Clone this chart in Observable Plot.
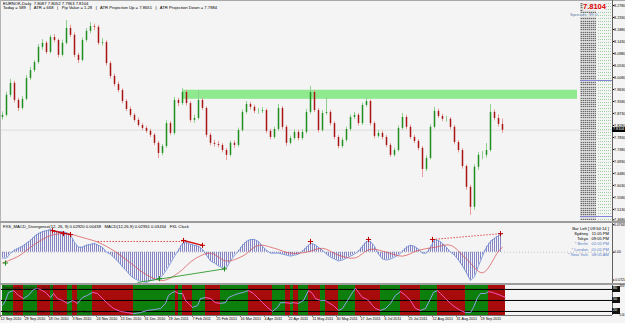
<!DOCTYPE html>
<html><head><meta charset="utf-8">
<script src="https://cdn.jsdelivr.net/npm/d3@7"></script>
<script src="https://cdn.jsdelivr.net/npm/@observablehq/plot@0.6"></script>
<style>
body{margin:0;background:#f4f4f4;}
#wrap{position:relative;width:625px;height:323px;overflow:hidden;background:#f4f4f4;font-family:"Liberation Sans",Arial,sans-serif;}
#wrap svg{position:absolute;left:0;}
.t{position:absolute;white-space:pre;line-height:1;}
.b{position:absolute;}
</style></head><body><div id="wrap"></div>
<script>
// ---------- DATA (EURNOK daily) ----------
const open = [7.858,7.866,7.941,7.986,7.922,7.892,7.926,8.004,8.034,8.064,
8.121,8.136,8.102,8.158,8.147,8.091,8.136,8.192,8.166,8.091,
8.072,8.147,8.181,8.199,8.196,8.136,8.139,8.060,8.012,7.982,
7.959,7.918,7.888,7.866,7.847,7.828,7.817,7.806,7.791,7.761,
7.723,7.749,7.835,7.798,7.922,7.910,7.952,7.910,7.847,7.854,
7.922,7.892,7.791,7.761,7.757,7.753,7.734,7.716,7.761,7.753,
7.809,7.877,7.907,7.896,7.881,7.881,7.884,7.806,7.783,7.813,
7.892,7.821,7.761,7.779,7.802,7.779,7.802,7.877,7.952,7.884,
7.809,7.873,7.877,7.835,7.783,7.749,7.772,7.813,7.858,7.866,
7.835,7.903,7.918,7.835,7.787,7.798,7.783,7.753,7.716,7.734,
7.817,7.858,7.821,7.783,7.768,7.742,7.663,7.704,7.821,7.881,
7.862,7.851,7.851,7.821,7.764,7.734,7.674,7.596,7.521,7.671,
7.716,7.716,7.734,7.877,7.854,7.832];
const close = [7.866,7.941,7.986,7.922,7.892,7.926,8.004,8.034,8.064,8.121,
8.136,8.102,8.158,8.147,8.091,8.136,8.192,8.166,8.091,8.072,
8.147,8.181,8.199,8.196,8.136,8.139,8.060,8.012,7.982,7.959,
7.918,7.888,7.866,7.847,7.828,7.817,7.806,7.791,7.761,7.723,
7.749,7.835,7.798,7.922,7.910,7.952,7.910,7.847,7.854,7.922,
7.892,7.791,7.761,7.757,7.753,7.734,7.716,7.761,7.753,7.809,
7.877,7.907,7.896,7.881,7.881,7.884,7.806,7.783,7.813,7.892,
7.821,7.761,7.779,7.802,7.779,7.802,7.877,7.952,7.884,7.809,
7.873,7.877,7.835,7.783,7.749,7.772,7.813,7.858,7.866,7.835,
7.903,7.918,7.835,7.787,7.798,7.783,7.753,7.716,7.734,7.817,
7.858,7.821,7.783,7.768,7.742,7.663,7.704,7.821,7.881,7.862,
7.851,7.851,7.821,7.764,7.734,7.674,7.596,7.521,7.671,7.716,
7.716,7.734,7.877,7.854,7.832,7.810];
const high = [7.879,7.953,8.001,7.994,7.930,7.937,8.015,8.046,8.071,8.132,
8.150,8.143,8.166,8.169,8.152,8.148,8.222,8.204,8.175,8.099,
8.156,8.192,8.214,8.208,8.203,8.154,8.146,8.068,8.021,7.991,
7.966,7.925,7.897,7.873,7.856,7.836,7.825,7.814,7.798,7.768,
7.757,7.846,7.843,7.933,7.930,7.967,7.960,7.917,7.866,7.959,
7.930,7.898,7.799,7.772,7.768,7.760,7.741,7.769,7.770,7.818,
7.886,7.918,7.915,7.904,7.892,7.895,7.890,7.814,7.822,7.907,
7.899,7.828,7.788,7.811,7.810,7.812,7.888,7.974,7.960,7.892,
7.884,7.933,7.885,7.842,7.790,7.781,7.822,7.867,7.877,7.873,
7.912,7.933,7.924,7.842,7.809,7.806,7.790,7.760,7.743,7.826,
7.873,7.866,7.829,7.791,7.775,7.749,7.714,7.830,7.896,7.889,
7.870,7.862,7.858,7.828,7.771,7.741,7.680,7.604,7.680,7.727,
7.730,7.760,7.907,7.886,7.868,7.852];
const low = [7.848,7.860,7.933,7.912,7.880,7.885,7.920,7.996,8.026,8.058,
8.110,8.094,8.096,8.138,8.081,8.085,8.130,8.158,8.082,8.060,
8.066,8.140,8.172,8.184,8.128,8.126,8.051,8.002,7.973,7.951,
7.909,7.880,7.858,7.840,7.821,7.809,7.798,7.783,7.752,7.704,
7.714,7.742,7.790,7.791,7.898,7.903,7.901,7.838,7.836,7.848,
7.884,7.782,7.752,7.747,7.744,7.725,7.697,7.710,7.742,7.746,
7.802,7.870,7.886,7.872,7.870,7.873,7.797,7.774,7.776,7.806,
7.812,7.750,7.755,7.772,7.770,7.772,7.795,7.870,7.876,7.800,
7.802,7.866,7.826,7.774,7.740,7.742,7.765,7.806,7.850,7.826,
7.828,7.896,7.826,7.778,7.780,7.774,7.745,7.708,7.709,7.728,
7.810,7.813,7.775,7.760,7.733,7.633,7.655,7.698,7.815,7.854,
7.842,7.840,7.812,7.755,7.725,7.664,7.585,7.491,7.510,7.660,
7.700,7.706,7.728,7.845,7.822,7.798];
const lastPrice = 7.8104;
const resistance = [{from: 45.25, to: 143.75, low: 7.926, high: 7.960}];
const priceTicks = [8.278,8.233,8.188,8.143,8.098,8.053,8.008,7.963,7.918,7.873,7.828,7.783,7.738,7.693,7.648,7.603,7.558,7.513];
const priceTickLast = [7.468];

const macd = [-0.0153,-0.0153,-0.0026,0.0051,0.0102,0.0153,0.0230,0.0306,0.0408,0.0485,
0.0536,0.0561,0.0587,0.0561,0.0536,0.0536,0.0510,0.0459,0.0255,0.0128,
0.0128,0.0179,0.0204,0.0230,0.0179,0.0128,0.0000,-0.0051,-0.0153,-0.0255,
-0.0383,-0.0485,-0.0612,-0.0689,-0.0740,-0.0765,-0.0791,-0.0740,-0.0714,-0.0689,
-0.0612,-0.0459,-0.0281,-0.0102,0.0051,0.0230,0.0255,0.0204,0.0179,0.0153,
0.0077,-0.0077,-0.0230,-0.0281,-0.0357,-0.0408,-0.0408,-0.0230,-0.0077,0.0026,
0.0179,0.0281,0.0332,0.0332,0.0281,0.0153,0.0051,-0.0026,-0.0026,-0.0026,
-0.0051,-0.0077,-0.0102,-0.0077,-0.0051,0.0026,0.0128,0.0230,0.0204,0.0128,
0.0051,-0.0051,-0.0128,-0.0179,-0.0230,-0.0204,-0.0153,-0.0102,-0.0051,0.0026,
0.0153,0.0281,0.0281,0.0153,-0.0051,-0.0179,-0.0204,-0.0179,-0.0128,-0.0077,
0.0026,0.0128,0.0179,0.0153,0.0077,-0.0026,-0.0026,0.0128,0.0332,0.0306,
0.0230,0.0128,0.0000,-0.0077,-0.0204,-0.0357,-0.0536,-0.0740,-0.0638,-0.0357,
-0.0102,0.0128,0.0281,0.0357,0.0434,0.0485];
const signalBar = [0,4,8,12,16,20,24,28,32,36,40,44,48,52,56,60,64,68,72,76,80,84,88,92,96,100,104,108,112,116,120,124,125];
const signal = [-0.0281,-0.0102,0.0204,0.0434,0.0485,0.0383,0.0255,0.0026,-0.0281,-0.0587,-0.0740,-0.0536,-0.0179,-0.0026,-0.0230,-0.0102,0.0179,0.0102,-0.0026,0.0000,0.0102,-0.0077,-0.0153,0.0077,0.0000,-0.0102,0.0051,0.0128,0.0179,-0.0179,-0.0536,0.0026,0.0128];
const macdTopTick = [0.0764];
const macdTopLabel = "0.07648";
const macdTicks = [0, -0.0724];
const macdTickLabels = ["0.00", "-0.0724"];
const divRedSolid = [{x1:12.5,y1:0.0561,x2:17,y2:0.0459},{x1:45.25,y1:0.0306,x2:50,y2:0.0179}];
const divRedDotted = [{x1:23.75,y1:0.028,x2:45,y2:0.028},{x1:107.5,y1:0.0332,x2:124.5,y2:0.0485}];
const divRedMarks = [{x:12.5,y:0.0561},{x:15.25,y:0.0485},{x:17,y:0.0459},{x:45.25,y:0.0306},{x:50,y:0.0179},{x:77,y:0.028},{x:91.5,y:0.0332},{x:107.5,y:0.0332},{x:124.5,y:0.0485}];
const divGreen = [{x1:33.75,y1:-0.0791,x2:55.5,y2:-0.0434}];
const divGreenMarks = [{x:0.75,y:-0.0281},{x:39.25,y:-0.0689},{x:55.5,y:-0.0434}];

const oscBar = [0,0.75,1.5,2.75,4,5.25,6.5,7.75,8.75,10,10.75,12,12.75,13.75,15,16.25,17.5,18.75,20,21.25,22.5,23.75,25,26.25,27.75,29.5,31.25,32.75,34.5,36.25,37.75,39.5,40.75,41.5,42.5,43.25,44,45,45.75,46.5,47.5,48.75,49.5,50.75,52,53.25,54.5,55.75,56.5,57.75,59,60.25,61.5,62.75,63.75,65,66.25,67.5,68.75,69.5,70.75,72,72.75,74,75.25,76.5,77.5,78.25,79.5,80.75,81.5,82.75,84,85,86.25,87.5,88.25,89,90,90.75,91.5,92.5,93.25,94.5,95.75,97,98.25,99.5,100.75,102,103.25,104.5,105.75,107,107.75,108.75,109.5,110.75,112,113.25,114.5,115.75,117,117.75,118.75,119.5,120.75,121.5,122.5,123.25,124.5,125.75];
const osc = [36,50,72,77,64,55,64,80,83,77,72,58,69,55,50,42,50,42,58,64,72,69,55,42,28,20,17,14,17,23,25,28,42,64,72,74,69,69,50,42,31,36,55,58,55,44,42,44,58,64,69,72,77,69,58,44,31,20,31,44,44,42,44,42,50,77,69,55,50,50,44,36,23,28,50,72,83,72,58,55,50,36,28,23,28,42,64,74,64,50,28,23,28,55,72,77,69,55,42,31,23,17,17,31,58,69,69,74,72,69,64,58];
const oscLevels = [80, 50, 20];
const dateLabels = ["12 Sep 2010","29 Sep 2010","18 Oct 2010","3 Nov 2010","24 Nov 2010","13 Dec 2010","31 Dec 2010","19 Jan 2011","7 Feb 2011","25 Feb 2011","16 Mar 2011","4 Apr 2011","22 Apr 2011","11 May 2011","30 May 2011","17 Jun 2011","6 Jul 2011","25 Jul 2011","12 Aug 2011","31 Aug 2011","19 Sep 2011"];

// ---------- helpers ----------
const wrap = document.getElementById("wrap");
function txt(s, left, top, size, color, extra) {
  const d = document.createElement("div"); d.className = "t"; d.textContent = s;
  if (left != null) d.style.left = left + "px";
  d.style.top = top + "px"; d.style.fontSize = size + "px"; d.style.color = color || "#000";
  if (extra) Object.assign(d.style, extra);
  wrap.appendChild(d); return d;
}
function rtxt(s, right, top, size, color, extra) {
  return txt(s, null, top, size, color, Object.assign({right: (625 - right) + "px", textAlign: "right"}, extra || {}));
}
function box(left, top, w, h, bg, extra) {
  const d = document.createElement("div"); d.className = "b";
  Object.assign(d.style, {left: left + "px", top: top + "px", width: w + "px", height: h + "px", background: bg}, extra || {});
  wrap.appendChild(d); return d;
}
const xScale = {domain: [-0.5, 152.5], axis: null};
const common = {width: 625, marginLeft: 0, marginRight: 13, marginTop: 0, style: {background: "transparent", fontFamily: "Liberation Sans, Arial, sans-serif"}};
const axisFont = 3.7;

// ---------- MAIN PANE ----------
const bars = close.map((c, i) => ({i, o: open[i], h: high[i], l: low[i], c, up: c >= open[i]}));
const main = Plot.plot({
  ...common, height: 222, marginBottom: 0,
  x: xScale,
  y: {domain: [7.464, 8.29675]},
  marks: [
    Plot.rect(resistance, {x1: "from", x2: "to", y1: "low", y2: "high", fill: "#8fea8f"}),
    Plot.ruleY([lastPrice], {stroke: "#d6d6d6", strokeWidth: 0.8}),
    Plot.ruleX(bars, {x: "i", y1: "l", y2: "h", stroke: d => d.up ? "#8fcf8f" : "#e69a9a", strokeWidth: 1}),
    Plot.ruleX(bars, {x: "i", y1: "o", y2: "c", stroke: d => d.up ? "#1f8f1f" : "#a81414", strokeWidth: 1.5}),
    Plot.axisY({anchor: "right", ticks: priceTicks, tickFormat: d => d.toFixed(4), tickSize: 1.2, tickPadding: 0.4, fontSize: axisFont, label: null}),
    Plot.axisY({anchor: "right", ticks: priceTickLast, tickFormat: d => d.toFixed(4), tickSize: 1.2, tickPadding: 0.4, fontSize: axisFont, dy: -1.6, label: null})
  ]
});
main.style.top = "0px";
wrap.appendChild(main);

// ---------- MACD PANE ----------
const macdData = macd.map((v, i) => ({i, v}));
const sigData = signalBar.map((b, k) => ({i: b, v: signal[k]}));
const macdPlot = Plot.plot({
  ...common, height: 62, marginBottom: 0,
  x: xScale,
  y: {domain: [-0.0842, 0.0775]},
  marks: [
    Plot.ruleY([0], {stroke: "#9a9a9a", strokeDasharray: "1,2", strokeWidth: 0.6}),
    Plot.areaY(macdData, {x: "i", y: "v", fill: "url(#histStripes)"}),
    Plot.lineY(macdData, {x: "i", y: "v", stroke: "#6c8cd8", strokeWidth: 0.8}),
    Plot.line(sigData, {x: "i", y: "v", stroke: "#d84848", strokeWidth: 0.7, curve: "catmull-rom"}),
    Plot.link(divRedDotted, {x1: "x1", y1: "y1", x2: "x2", y2: "y2", stroke: "#d82020", strokeWidth: 0.8, strokeDasharray: "1.5,1.5"}),
    Plot.link(divRedSolid, {x1: "x1", y1: "y1", x2: "x2", y2: "y2", stroke: "#d01010", strokeWidth: 1.4}),
    Plot.link(divGreen, {x1: "x1", y1: "y1", x2: "x2", y2: "y2", stroke: "#2e9a2e", strokeWidth: 0.9}),
    Plot.dot(divRedMarks, {x: "x", y: "y", symbol: "plus", r: 1.8, stroke: "#c00000", strokeWidth: 1}),
    Plot.dot(divGreenMarks, {x: "x", y: "y", symbol: "plus", r: 1.8, stroke: "#1a8a1a", strokeWidth: 1}),
    Plot.axisY({anchor: "right", ticks: macdTicks, tickFormat: d => macdTickLabels[macdTicks.indexOf(d)], tickSize: 1.2, tickPadding: 0.4, fontSize: 3.5, label: null}),
    Plot.axisY({anchor: "right", ticks: macdTopTick, tickFormat: () => macdTopLabel, tickSize: 1.2, tickPadding: 0.4, fontSize: 3.4, dy: 1.8, label: null})
  ]
});
d3.select(macdPlot).insert("defs", ":first-child").html(
  '<pattern id="histStripes" width="2" height="4" patternUnits="userSpaceOnUse"><rect x="0" y="0" width="1" height="4" fill="#8585c6"/></pattern>');
macdPlot.style.top = "222px";
wrap.appendChild(macdPlot);

// ---------- OSCILLATOR PANE ----------
const oscPts = oscBar.map((b, k) => ({b, v: osc[k]}));
const segs = d3.pairs(oscPts).map(([a, c]) => ({x1: a.b, x2: c.b, y1: a.v, y2: c.v, up: c.v >= a.v}));
const tickPos = dateLabels.map((_, k) => k * 6 - 0.5);
const oscPlot = Plot.plot({
  ...common, height: 39, marginBottom: 8,
  x: xScale,
  y: {domain: [9, 93.5], axis: null},
  marks: [
    Plot.rect(segs, {x1: "x1", x2: "x2", fill: d => d.up ? "#0c7f0c" : "#a70b0b"}),
    Plot.ruleY(oscLevels, {stroke: "#000", strokeWidth: 1}),
    Plot.link(segs, {x1: "x1", y1: "y1", x2: "x2", y2: "y2", stroke: d => d.up ? "#a4a4ff" : "#ff5fd0", strokeWidth: 0.9}),
    Plot.axisX({ticks: tickPos, tickFormat: d => dateLabels[tickPos.indexOf(d)], textAnchor: "start", tickSize: 1.5, tickPadding: 0.5, fontSize: 3.7, label: null})
  ]
});
oscPlot.style.top = "284px";
wrap.appendChild(oscPlot);

// ---------- decorations / texts ----------
box(0, 0, 625, 1, "#a8a8a8");
box(0, 0, 1, 315, "#b5b5b5");
box(612, 0, 1, 315, "#606060");
box(0, 221, 625, 1.5, "#9c9c9c");
box(0, 283, 625, 1.5, "#9c9c9c");
box(0, 314.5, 612, 0.8, "#707070");

// right strip of level text (dense) and dotted grid
box(580, 3, 16, 217, "", {backgroundImage: "repeating-linear-gradient(90deg, rgba(230,230,230,0.6) 0 1px, rgba(0,0,0,0) 1px 2px), repeating-linear-gradient(180deg, #6a6a6a 0 1px, #cfcfcf 1px 2.2px)"});
box(597, 3, 14, 217, "", {backgroundImage: "repeating-linear-gradient(90deg, rgba(244,244,244,1) 0 1px, rgba(0,0,0,0) 1px 2px), repeating-linear-gradient(180deg, #9fd09f 0 1px, rgba(0,0,0,0) 1px 3px)"});
box(580, 80, 32, 1, "#8484d6");
box(580, 216, 32, 1, "#8484d6");

// header
txt("EURNOK,Daily  7.8087 7.8052 7.7963 7.8104", 3, 1.5, 4.2, "#000");
txt("Today = 589   |   ATR = 668   |   Pip Value = 1.28   |   ATR Projection Up = 7.8651   |   ATR Projection Down = 7.7884", 3, 6, 4.2, "#000");
txt("7.8104", 583, 3, 7.5, "#e00000", {fontWeight: "bold", background: "rgba(244,244,244,0.85)"});
txt("Spreads: 35.0", 570, 12.5, 4.4, "#5a7fa8", {background: "rgba(244,244,244,0.85)"});

// current price box on axis
const yMain = main.scale("y");
const py = yMain.apply(lastPrice);
box(612, py - 2.7, 13, 5.4, "#000");
txt(lastPrice.toFixed(4), 613, py - 1.9, 3.7, "#fff");

// MACD pane texts
txt("FXS_MACD_Divergence(12, 26, 9) 0.02920 0.00438   MACD(12,26,9) 0.02951 0.03434   FXL Clock", 3, 224.5, 4.2, "#000");
rtxt("Bar Left [ 09:54:14 ]", 609, 226.5, 4.2, "#000");
const clockNames = ["Sydney", "Tokyo", "* Berlin", "* London", "* New York"];
const clockTimes = ["11:05 PM", "09:05 PM", "02:05 PM", "01:05 PM", "08:05 AM"];
const clockColors = ["#000", "#000", "#5b7fc8", "#5b7fc8", "#5b7fc8"];
clockNames.forEach((n, k) => {
  rtxt(n, 588, 232 + k * 5.2, 4.1, clockColors[k]);
  rtxt(clockTimes[k], 609, 232 + k * 5.2, 4.1, clockColors[k]);
});

// oscillator pane texts and level boxes
txt("Stochastic Oscillator (14,3,3)", 3, 286, 4, "#2a1a1a");
txt("Copyright © 2006-2011, FX Sniper Software Corp.", 3, 309.5, 4, "#2a1a1a");
const yOsc = oscPlot.scale("y");
oscLevels.forEach(v => {
  const yy = 284 + yOsc.apply(v);
  box(612, yy - 2.6, 7.5, 5.2, "#111");
  txt(String(v), 613, yy - 1.9, 3.7, "#fff");
});
txt("100", 619.5, 284.6, 2.9, "#000");
txt("0.00", 619.5, 315.2, 2.6, "#000");
</script>
</body></html>
